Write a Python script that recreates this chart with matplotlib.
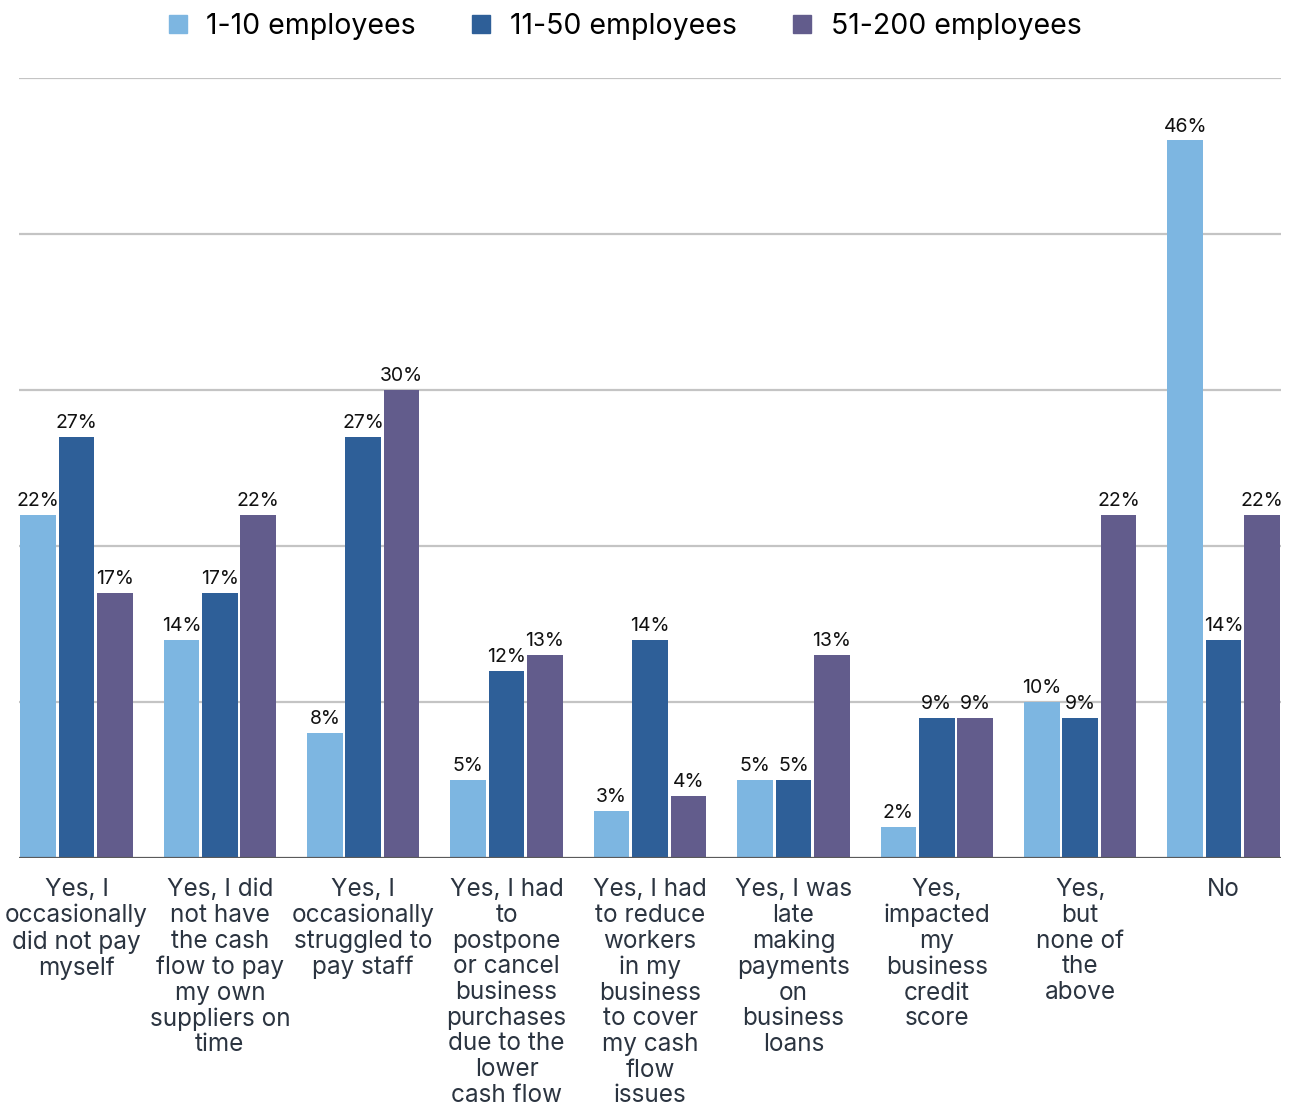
import matplotlib
matplotlib.use("Agg")
import matplotlib.pyplot as plt
from matplotlib.lines import Line2D
import numpy as np

plt.rcParams['font.family'] = ['Inter', 'DejaVu Sans']

categories = [
    "Yes, I\noccasionally\ndid not pay\nmyself",
    "Yes, I did\nnot have\nthe cash\nflow to pay\nmy own\nsuppliers on\ntime",
    "Yes, I\noccasionally\nstruggled to\npay staff",
    "Yes, I had\nto\npostpone\nor cancel\nbusiness\npurchases\ndue to the\nlower\ncash flow",
    "Yes, I had\nto reduce\nworkers\nin my\nbusiness\nto cover\nmy cash\nflow\nissues",
    "Yes, I was\nlate\nmaking\npayments\non\nbusiness\nloans",
    "Yes,\nimpacted\nmy\nbusiness\ncredit\nscore",
    "Yes,\nbut\nnone of\nthe\nabove",
    "No",
]
series_names = ["1-10 employees", "11-50 employees", "51-200 employees"]
emp_1_10 = [22, 14, 8, 5, 3, 5, 2, 10, 46]
emp_11_50 = [27, 17, 27, 12, 14, 5, 9, 9, 14]
emp_51_200 = [17, 22, 30, 13, 4, 13, 9, 22, 22]

colors = ["#7DB6E1", "#2E5F98", "#625C8C"]
series = [emp_1_10, emp_11_50, emp_51_200]

W, H = 1289, 1106
fig = plt.figure(figsize=(W / 100, H / 100), dpi=100)
ax = fig.add_axes([19 / W, 1 - 858 / H, (1281 - 19) / W, (858 - 78) / H])

x = np.arange(len(categories))
group_w = 0.802
pitch = group_w / 3
bar_w = pitch * 0.93

for i, (vals, col) in enumerate(zip(series, colors)):
    pos = x - group_w / 2 + pitch * (i + 0.5)
    bars = ax.bar(pos, vals, width=bar_w, color=col, zorder=3)
    for b, v in zip(bars, vals):
        ax.annotate(f"{v}%", (b.get_x() + b.get_width() / 2, v),
                    xytext=(0, 3.5), textcoords="offset points",
                    ha="center", va="bottom", fontsize=14, color="#111111",
                    zorder=4)

ax.set_xlim(-group_w / 2, len(categories) - 1 + group_w / 2)
ax.set_ylim(0, 50)
ax.set_yticks([10, 20, 30, 40, 50])
ax.yaxis.grid(True, color="#C4C4C4", linewidth=1.6, zorder=0)
ax.tick_params(axis="y", left=False, labelleft=False)
ax.axhline(0, color="#5A5A5A", linewidth=1.6, zorder=5)
for s in ax.spines.values():
    s.set_visible(False)

ax.set_xticks(x)
ax.set_xticklabels(categories, fontsize=17.5, color="#2B3440", linespacing=1.15,
                   va="top")
ax.tick_params(axis="x", bottom=False, pad=11)

handles = [Line2D([0], [0], marker="s", linestyle="none", markersize=12.5,
                  markerfacecolor=c, markeredgecolor=c) for c in colors]
fig.legend(handles, series_names, loc="center", bbox_to_anchor=(0.484, 1 - 26 / H),
           ncol=3, frameon=False, fontsize=20.5, handlelength=0.8,
           handletextpad=0.6, columnspacing=1.9)

fig.savefig("out.png", dpi=100, facecolor="white")
